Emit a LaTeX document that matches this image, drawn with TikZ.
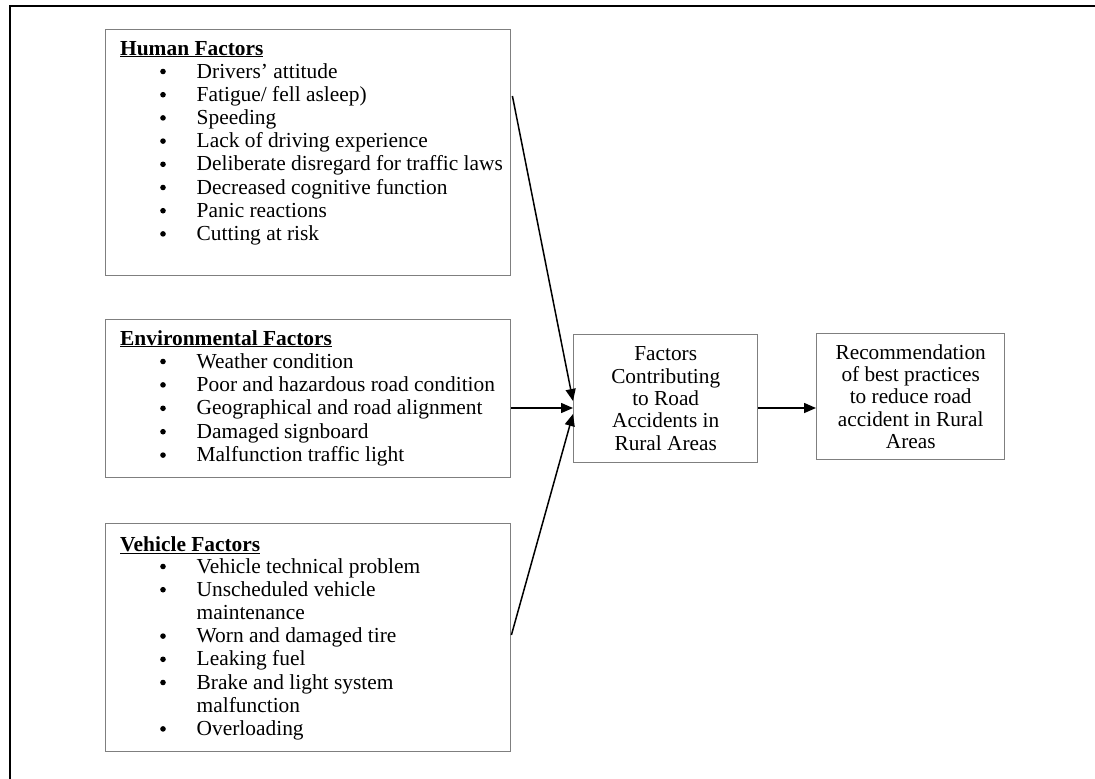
\documentclass[tikz,border=0pt]{standalone}
\usepackage{fontspec}
\setmainfont{Liberation Serif}
\usetikzlibrary{arrows.meta,calc}
\definecolor{boxgray}{HTML}{7F7F7F}
\begin{document}
\begin{tikzpicture}[x=1pt,y=-1pt,
  frame/.style={draw=black,line width=2.2pt},
  box/.style={draw=boxgray,line width=1.4pt,inner sep=0pt,anchor=north west},
  cbox/.style={box,align=center,font=\fontsize{21.3pt}{22.4pt}\selectfont},
  txt/.style={inner sep=0pt,anchor=base west,font=\fontsize{21.4pt}{23.4pt}\selectfont},
  head/.style={txt,font=\fontsize{21.4pt}{23.4pt}\selectfont\bfseries},
  bul/.style={fill=black}]
\tikzset{arr/.style={draw=black,line width=1.5pt,-{Triangle[length=12pt,width=10pt]}}}
\useasboundingbox (0,0) rectangle (1095,779);
% outer frame (only top and left edges visible)
\draw[frame] (10,800) -- (10,6) -- (1110,6);
% boxes
\node[box,minimum width=405pt,minimum height=246pt] (human) at (105,29) {};
\node[box,minimum width=405pt,minimum height=158pt] (env) at (105,319) {};
\node[box,minimum width=405pt,minimum height=228pt] (veh) at (105,523) {};
\node[cbox,minimum width=184pt,minimum height=128pt] (cen) at (573,334)
  {Factors\\Contributing\\to Road\\Accidents in\\Rural Areas};
\node[cbox,minimum width=188pt,minimum height=126pt] (rec) at (816,333)
  {Recommendation\\of best practices\\to reduce road\\accident in Rural\\Areas};
% human factors
\node[head] (hh) at (120,55) {\underline{Human Factors}};
\foreach \t [count=\i from 0] in {Drivers’ attitude,Fatigue/ fell asleep),Speeding,Lack of driving experience,Deliberate disregard for traffic laws,Decreased cognitive function,Panic reactions,Cutting at risk}{
  \node[txt] (h\i) at (196.5,78+23.2*\i) {\t};
  \fill[bul] (163,78+23.2*\i-6.5) circle (2.8pt);}
% environmental factors
\node[head] (eh) at (120,345) {\underline{Environmental Factors}};
\foreach \t [count=\i from 0] in {Weather condition,Poor and hazardous road condition,Geographical and road alignment,Damaged signboard,Malfunction traffic light}{
  \node[txt] (e\i) at (196.5,368+23.4*\i) {\t};
  \fill[bul] (163,368+23.4*\i-6.5) circle (2.8pt);}
% vehicle factors
\node[head] (vh) at (120,551) {\underline{Vehicle Factors}};
\foreach \t/\b [count=\i from 0] in {Vehicle technical problem/1,Unscheduled vehicle/1,maintenance/0,Worn and damaged tire/1,Leaking fuel/1,Brake and light system/1,malfunction/0,Overloading/1}{
  \node[txt] (v\i) at (196.5,573+23.2*\i) {\t};
  \ifnum\b=1 \fill[bul] (163,573+23.2*\i-6.5) circle (2.8pt);\fi}
% connectors
\coordinate (hs) at ($(human.north east)+(1,67)$);
\coordinate (vs) at ($(veh.north east)+(0,112)$);
\draw[arr] (hs) -- ($(cen.north west)+(0,67)$);
\draw[arr] ($(env.north east)+(0,89)$) -- ($(cen.north west)+(0,74)$);
\draw[arr] (vs) -- ($(cen.north west)+(0,80)$);
\draw[arr] ($(cen.north east)+(0,74)$) -- ($(rec.north west)+(0,75)$);
\end{tikzpicture}
\end{document}
